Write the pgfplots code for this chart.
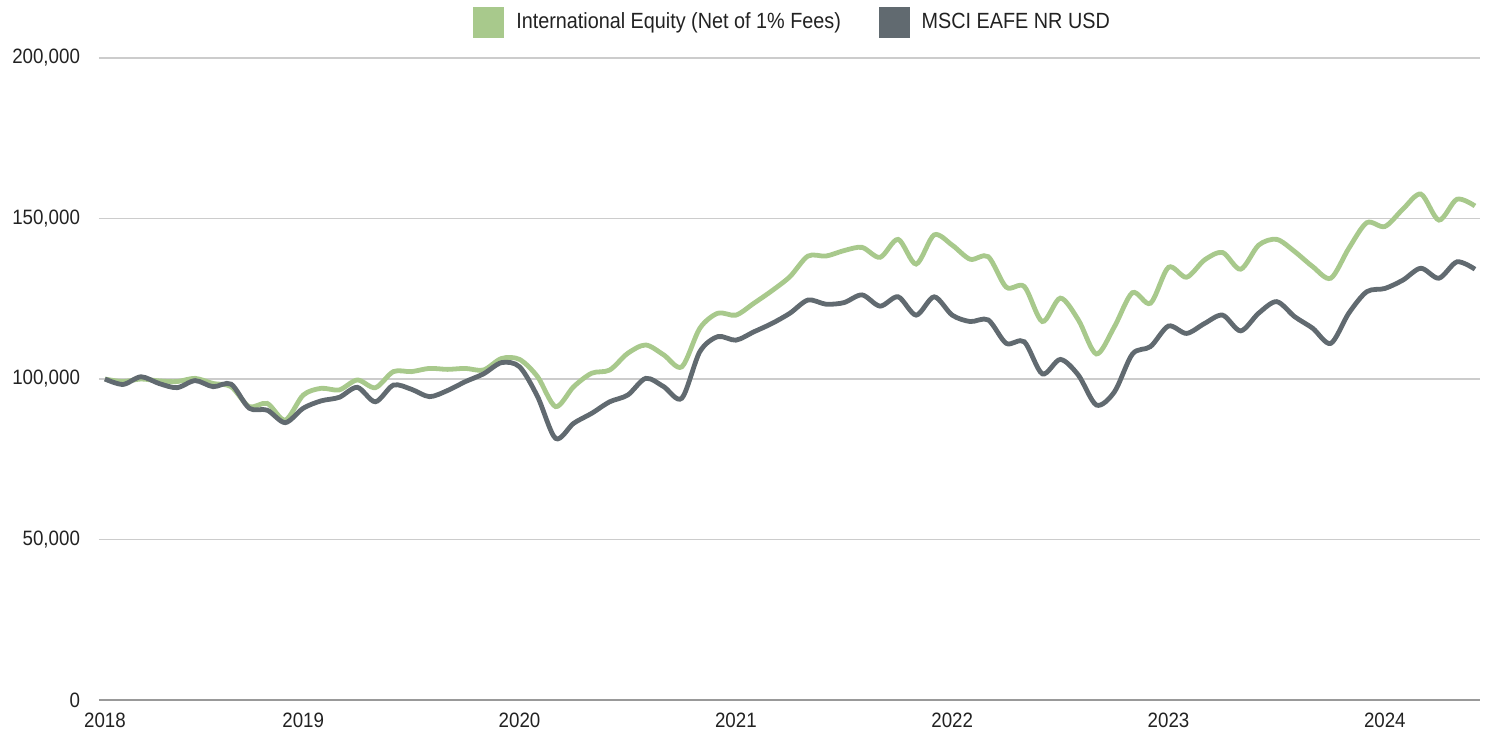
\documentclass[border=0pt]{standalone}
\usepackage{fontspec}
\setmainfont{Liberation Sans}[FakeStretch=0.9]
\usepackage{pgfplots}
\pgfplotsset{compat=1.18}
\definecolor{igreen}{HTML}{A8C98C}
\definecolor{igray}{HTML}{616A70}
\definecolor{gridc}{HTML}{CCCCCC}
\definecolor{axisc}{HTML}{999999}
\definecolor{txt}{HTML}{222222}
\begin{document}
\begin{tikzpicture}
\begin{axis}[
  scale only axis,
  width=690.5pt, height=321pt,
  xmin=-0.33, xmax=76.28,
  ymin=0, ymax=200000,
  axis x line*=bottom,
  axis y line*=left,
  y axis line style={draw=none},
  x axis line style={axisc, line width=0.9pt},
  ytick={0,50000,100000,150000,200000},
  yticklabels={0,{50,000},{100,000},{150,000},{200,000}},
  xtick={0,11,23,35,47,59,71},
  xticklabels={2018,2019,2020,2021,2022,2023,2024},
  major tick length=0pt,
  ymajorgrids,
  major grid style={gridc, line width=0.6pt},
  scaled y ticks=false,
  tick label style={font=\fontsize{10.4}{12}\selectfont, text=txt},
  yticklabel style={anchor=east, xshift=-6pt},
  xticklabel style={yshift=-3pt},
  legend columns=2,
  legend style={draw=none, fill=none, at={(0.503,1)}, anchor=south, yshift=8pt,
    font=\fontsize{11}{13}\selectfont, text=txt,
    /tikz/every odd column/.append style={column sep=4pt},
    /tikz/every even column/.append style={column sep=17pt}},
  legend image code/.code={\fill[#1] (0pt,-6.5pt) rectangle (13pt,6.5pt);},
  clip=false,
]
\addplot[color=igreen, line width=2.4pt, smooth, tension=0.5] coordinates {
(0,100000)(1,99200)(2,100000)(3,99400)(4,99200)(5,100200)(6,98600)(7,97600)(8,91400)(9,92400)
(10,87200)(11,95000)(12,97100)(13,96600)(14,99700)(15,97300)(16,102300)(17,102300)(18,103300)(19,103000)
(20,103300)(21,102800)(22,106400)(23,106100)(24,100700)(25,91400)(26,97600)(27,101800)(28,102800)(29,108000)
(30,110600)(31,107500)(32,103800)(33,115800)(34,120500)(35,119900)(36,123600)(37,127500)(38,131900)(39,138300)
(40,138300)(41,140000)(42,141000)(43,137900)(44,143500)(45,135800)(46,144900)(47,141700)(48,137300)(49,138100)
(50,128600)(51,128800)(52,117900)(53,125200)(54,118400)(55,107800)(56,116300)(57,126900)(58,123600)(59,134800)
(60,131700)(61,137100)(62,139400)(63,134200)(64,141700)(65,143500)(66,139700)(67,135000)(68,131400)(69,140700)
(70,148700)(71,147500)(72,152900)(73,157600)(74,149500)(75,156000)(76,153900)};
\addlegendentry{International Equity (Net of 1\% Fees)}
\addplot[color=igray, line width=2.4pt, smooth, tension=0.5] coordinates {
(0,100000)(1,98300)(2,100700)(3,98600)(4,97300)(5,99500)(6,97600)(7,98400)(8,90900)(9,90300)
(10,86400)(11,90900)(12,93200)(13,94300)(14,97400)(15,92900)(16,98100)(17,96800)(18,94500)(19,96400)
(20,99200)(21,101600)(22,105100)(23,103800)(24,94500)(25,81500)(26,86200)(27,89300)(28,92900)(29,95000)
(30,100200)(31,97600)(32,94000)(33,108500)(34,113200)(35,112100)(36,114700)(37,117300)(38,120500)(39,124600)
(40,123300)(41,123800)(42,126200)(43,122700)(44,125600)(45,119900)(46,125600)(47,119900)(48,117900)(49,118400)
(50,111100)(51,111600)(52,101600)(53,106100)(54,101200)(55,91900)(56,96000)(57,107800)(58,110100)(59,116500)
(60,114200)(61,117300)(62,119900)(63,115000)(64,120500)(65,124100)(66,119400)(67,115800)(68,111100)(69,120500)
(70,127200)(71,128200)(72,130800)(73,134500)(74,131400)(75,136500)(76,134200)};
\addlegendentry{MSCI EAFE NR USD}
\end{axis}
\path (current axis.south west) ++(-49.5pt,-20pt) coordinate (bbl);
\path (current axis.north east) ++(7pt,29pt) coordinate (bbr);
\path[use as bounding box] (bbl) rectangle (bbr);
\end{tikzpicture}
\end{document}
